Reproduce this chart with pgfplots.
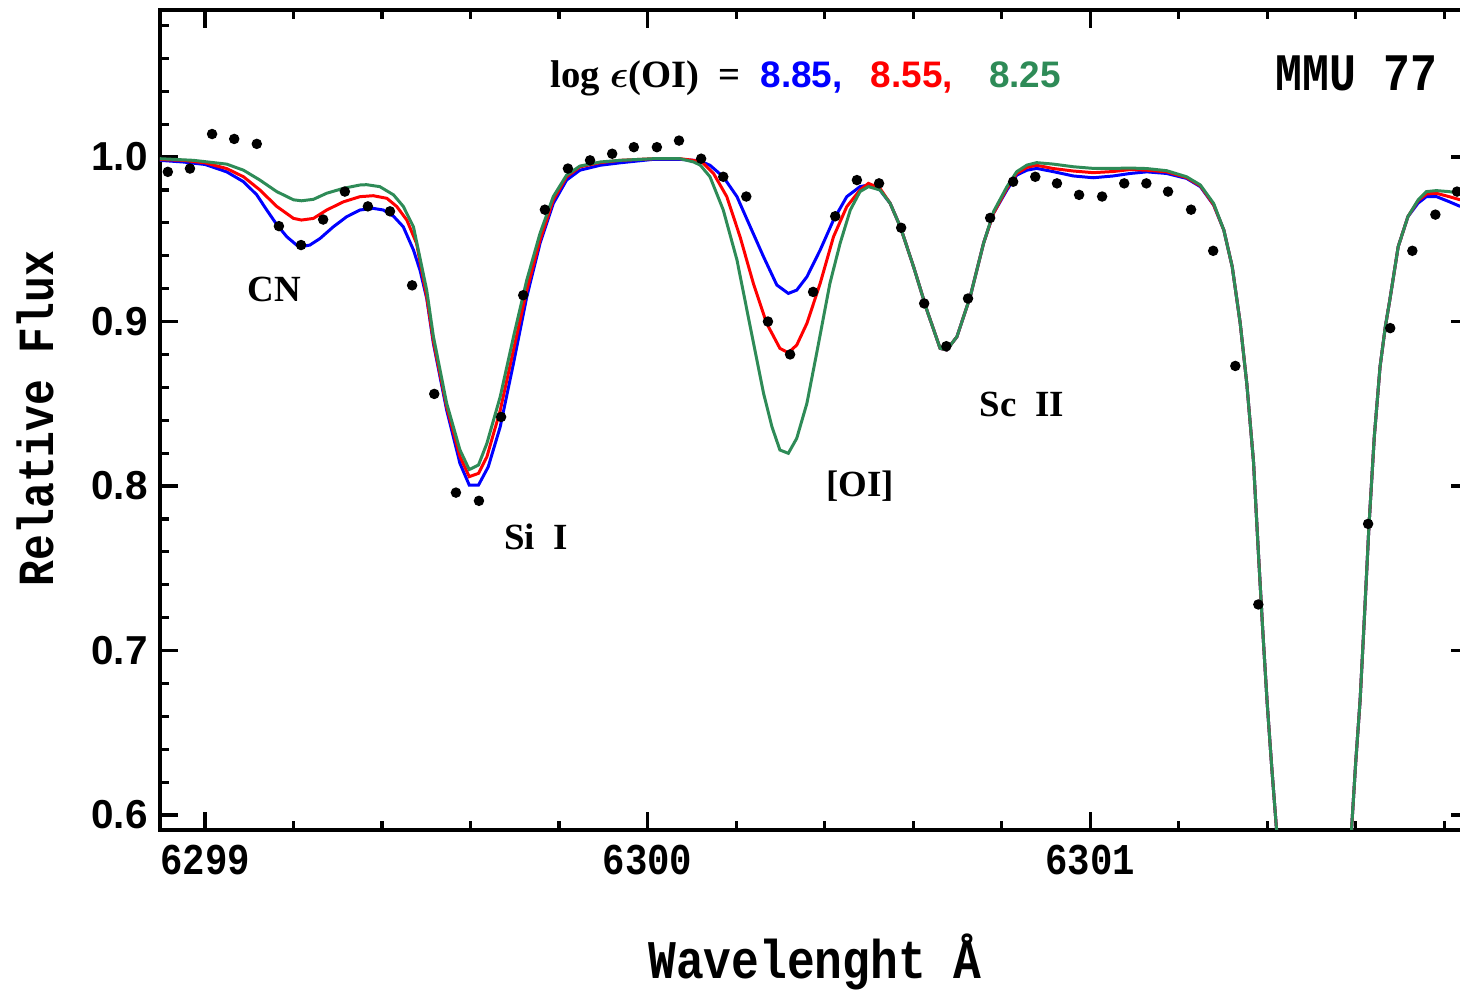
\documentclass[border=0pt]{standalone}
\usepackage{amsmath}
\usepackage{fontspec}
\setmainfont{Liberation Serif}
\newfontfamily\monoc[FakeStretch=0.85]{Liberation Mono}
\newfontfamily\sansb{Liberation Sans}
\usepackage{pgfplots}
\pgfplotsset{compat=1.18}
\definecolor{sgreen}{RGB}{46,139,87}

\begin{document}
\begin{tikzpicture}
\begin{axis}[
  scale only axis, width=130.9mm, height=82mm,
  xmin=6298.8983, xmax=6301.856, ymin=0.5909, ymax=1.0894,
  xtick={6299,6300,6301}, xticklabels={6299,6300,6301},
  minor xtick={6299.2,6299.4,6299.6,6299.8,6300.2,6300.4,6300.6,6300.8,6301.2,6301.4,6301.6,6301.8},
  ytick={0.6,0.7,0.8,0.9,1.0}, yticklabels={0.6,0.7,0.8,0.9,1.0},
  minor ytick={0.62,0.64,0.66,0.68,0.72,0.74,0.76,0.78,0.82,0.84,0.86,0.88,0.92,0.94,0.96,0.98,1.02,1.04,1.06,1.08},
  major tick length=1.8mm, minor tick length=0.9mm,
  every tick/.style={black, line width=0.9pt},
  axis line style={line width=1.1pt},
  xticklabel style={font=\monoc\bfseries\fontsize{12.5}{14}\selectfont, yshift=-0.3mm},
  yticklabel style={font=\sansb\bfseries\fontsize{11.5}{13}\selectfont},
  xlabel={Wavelenght Å}, ylabel={Relative Flux},
  xlabel style={at={(rel axis cs:0.5004,-0.161)}, anchor=center,
                font=\monoc\bfseries\fontsize{15.5}{17}\selectfont},
  ylabel style={at={(rel axis cs:-0.0955,0.502)}, anchor=center,
                font=\monoc\bfseries\fontsize{14.4}{16}\selectfont},
  unbounded coords=jump,
]
% model 8.85
\addplot[blue, line width=0.85pt] coordinates {
(6298.898,0.998)(6298.95,0.997)(6299.0,0.9955)(6299.049,0.991)(6299.087,0.985)
(6299.117,0.977)(6299.139,0.968)(6299.162,0.959)(6299.185,0.9515)(6299.207,0.9465)
(6299.218,0.9455)(6299.237,0.9465)(6299.260,0.9505)(6299.290,0.9576)(6299.320,0.9637)
(6299.350,0.9678)(6299.380,0.9688)(6299.403,0.9678)(6299.426,0.964)(6299.448,0.9576)
(6299.471,0.9435)(6299.486,0.931)(6299.501,0.914)(6299.516,0.8867)(6299.546,0.8462)
(6299.576,0.8138)(6299.597,0.8006)(6299.618,0.8006)(6299.640,0.8117)(6299.667,0.836)
(6299.697,0.8746)(6299.727,0.915)(6299.757,0.9475)(6299.787,0.9718)(6299.817,0.986)
(6299.847,0.992)(6299.893,0.995)(6299.938,0.9965)(6300.013,0.9986)(6300.073,0.9986)
(6300.104,0.998)(6300.119,0.9975)(6300.141,0.995)(6300.171,0.988)(6300.202,0.9759)
(6300.232,0.9576)(6300.262,0.9394)(6300.292,0.9222)(6300.318,0.9171)(6300.337,0.9191)
(6300.360,0.9272)(6300.390,0.9435)(6300.420,0.9617)(6300.450,0.9759)(6300.480,0.982)
(6300.499,0.983)(6300.525,0.980)
(6300.548,0.9719)(6300.571,0.9576)(6300.601,0.9333)(6300.631,0.907)(6300.661,0.8837)
(6300.676,0.8827)(6300.699,0.8908)(6300.729,0.9151)(6300.759,0.9475)(6300.782,0.966)
(6300.812,0.980)(6300.834,0.989)(6300.857,0.992)(6300.879,0.9931)(6300.917,0.9911)
(6300.962,0.9885)(6301.007,0.9874)(6301.052,0.9885)(6301.090,0.990)(6301.128,0.991)
(6301.173,0.990)(6301.218,0.987)(6301.249,0.982)(6301.279,0.9708)
(6301.302,0.9556)(6301.321,0.9333)(6301.339,0.899)(6301.354,0.862)(6301.369,0.815)
(6301.380,0.760)(6301.390,0.712)(6301.400,0.668)(6301.410,0.630)(6301.422,0.588)
(6301.426,0.575)(6301.5,nan)(6301.588,0.575)(6301.591,0.593)(6301.600,0.632)
(6301.610,0.670)(6301.620,0.722)(6301.630,0.776)(6301.642,0.830)(6301.655,0.8725)
(6301.667,0.897)(6301.677,0.913)(6301.696,0.9455)(6301.718,0.9638)
(6301.741,0.972)(6301.760,0.976)(6301.782,0.976)(6301.810,0.973)(6301.836,0.970)
};
% model 8.55
\addplot[red, line width=0.85pt] coordinates {
(6298.898,0.9985)(6298.95,0.998)(6299.0,0.9965)(6299.049,0.993)(6299.087,0.988)
(6299.124,0.980)(6299.162,0.970)(6299.200,0.9627)(6299.218,0.9617)(6299.245,0.9627)
(6299.275,0.9678)(6299.313,0.9728)(6299.350,0.9759)(6299.380,0.9765)(6299.411,0.9749)
(6299.433,0.970)(6299.456,0.9617)(6299.478,0.9475)(6299.501,0.915)(6299.516,0.888)
(6299.546,0.8482)(6299.576,0.818)(6299.597,0.8057)(6299.618,0.8077)(6299.637,0.8178)
(6299.667,0.846)(6299.697,0.8827)(6299.727,0.919)(6299.757,0.9495)(6299.787,0.9739)
(6299.817,0.988)(6299.847,0.994)(6299.893,0.9966)(6299.938,0.998)(6300.013,0.999)
(6300.073,0.999)(6300.104,0.998)(6300.125,0.9965)(6300.149,0.990)(6300.179,0.9759)
(6300.209,0.9515)(6300.239,0.9232)(6300.269,0.8989)(6300.299,0.8837)(6300.318,0.881)
(6300.337,0.8857)(6300.360,0.8989)(6300.390,0.9232)(6300.420,0.9515)(6300.450,0.9698)
(6300.480,0.980)(6300.499,0.984)(6300.525,0.981)
(6300.548,0.9719)(6300.571,0.9576)(6300.601,0.9333)(6300.631,0.907)(6300.661,0.8837)
(6300.676,0.8827)(6300.699,0.8908)(6300.729,0.9151)(6300.759,0.9475)(6300.782,0.966)
(6300.812,0.981)(6300.834,0.990)(6300.857,0.9937)(6300.879,0.995)(6300.917,0.993)
(6300.962,0.9915)(6301.007,0.9905)(6301.052,0.9912)(6301.090,0.9924)(6301.128,0.992)
(6301.173,0.991)(6301.218,0.9875)(6301.249,0.9825)(6301.279,0.971)
(6301.302,0.9556)(6301.321,0.9333)(6301.339,0.899)(6301.354,0.862)(6301.369,0.815)
(6301.380,0.760)(6301.390,0.712)(6301.400,0.668)(6301.410,0.630)(6301.422,0.588)
(6301.426,0.575)(6301.5,nan)(6301.588,0.575)(6301.591,0.593)(6301.600,0.632)
(6301.610,0.670)(6301.620,0.722)(6301.630,0.776)(6301.642,0.830)(6301.655,0.8725)
(6301.667,0.897)(6301.677,0.913)(6301.696,0.9455)(6301.718,0.9638)
(6301.741,0.9735)(6301.760,0.9775)(6301.782,0.978)(6301.810,0.976)(6301.836,0.974)
};
% model 8.25
\addplot[sgreen, line width=0.85pt] coordinates {
(6298.898,0.999)(6298.974,0.998)(6299.049,0.9957)(6299.087,0.992)(6299.124,0.986)
(6299.162,0.979)(6299.200,0.974)(6299.218,0.9734)(6299.245,0.9743)(6299.275,0.978)
(6299.313,0.981)(6299.350,0.983)(6299.365,0.9832)(6299.395,0.982)(6299.426,0.977)
(6299.448,0.970)(6299.471,0.9576)(6299.501,0.919)(6299.516,0.891)(6299.546,0.8503)
(6299.576,0.822)(6299.597,0.810)(6299.618,0.8128)(6299.637,0.826)(6299.667,0.8543)
(6299.697,0.8907)(6299.727,0.9252)(6299.757,0.9536)(6299.787,0.976)(6299.817,0.989)
(6299.847,0.9945)(6299.893,0.997)(6299.938,0.998)(6300.013,0.999)(6300.073,0.999)
(6300.104,0.997)(6300.119,0.9951)(6300.141,0.988)(6300.171,0.9678)(6300.202,0.9374)
(6300.232,0.8968)(6300.262,0.8564)(6300.281,0.836)(6300.299,0.8219)(6300.318,0.8199)
(6300.337,0.829)(6300.360,0.8503)(6300.382,0.8807)(6300.412,0.9232)(6300.435,0.9475)
(6300.458,0.9678)(6300.480,0.979)(6300.499,0.982)(6300.525,0.980)
(6300.548,0.9719)(6300.571,0.9576)(6300.601,0.9333)(6300.631,0.907)(6300.661,0.8837)
(6300.676,0.8827)(6300.699,0.8908)(6300.729,0.9151)(6300.759,0.9475)(6300.782,0.967)
(6300.812,0.982)(6300.834,0.9911)(6300.857,0.9951)(6300.879,0.9966)(6300.917,0.9957)
(6300.962,0.9941)(6301.007,0.9931)(6301.052,0.9931)(6301.090,0.9933)(6301.128,0.993)
(6301.173,0.9917)(6301.218,0.988)(6301.249,0.983)(6301.279,0.9718)
(6301.302,0.9556)(6301.321,0.9333)(6301.339,0.899)(6301.354,0.862)(6301.369,0.815)
(6301.380,0.760)(6301.390,0.712)(6301.400,0.668)(6301.410,0.630)(6301.422,0.588)
(6301.426,0.575)(6301.5,nan)(6301.588,0.575)(6301.591,0.593)(6301.600,0.632)
(6301.610,0.670)(6301.620,0.722)(6301.630,0.776)(6301.642,0.830)(6301.655,0.8725)
(6301.667,0.897)(6301.677,0.913)(6301.696,0.9455)(6301.718,0.9638)
(6301.741,0.9739)(6301.760,0.979)(6301.782,0.9796)(6301.810,0.979)(6301.836,0.978)
};
% observed spectrum
\addplot[only marks, mark=*, mark size=0.45mm, black] coordinates {
(6298.916,0.991)(6298.966,0.993)(6299.016,1.014)(6299.066,1.011)(6299.117,1.008)
(6299.167,0.958)(6299.217,0.9465)(6299.267,0.962)(6299.316,0.979)(6299.368,0.970)
(6299.418,0.967)(6299.468,0.922)(6299.518,0.856)(6299.567,0.796)(6299.619,0.791)
(6299.669,0.842)(6299.719,0.916)(6299.768,0.968)(6299.820,0.993)(6299.870,0.998)
(6299.920,1.002)(6299.969,1.006)(6300.021,1.006)(6300.071,1.010)(6300.121,0.999)
(6300.171,0.988)(6300.223,0.976)(6300.272,0.900)(6300.322,0.880)(6300.374,0.918)
(6300.424,0.964)(6300.473,0.986)(6300.523,0.984)(6300.573,0.957)(6300.625,0.911)
(6300.675,0.885)(6300.724,0.914)(6300.774,0.963)(6300.826,0.985)(6300.876,0.988)
(6300.925,0.984)(6300.975,0.977)(6301.027,0.976)(6301.077,0.984)(6301.127,0.984)
(6301.176,0.979)(6301.228,0.968)(6301.278,0.943)(6301.328,0.873)(6301.380,0.728)
(6301.628,0.777)(6301.678,0.896)(6301.728,0.943)(6301.780,0.965)(6301.829,0.979)
};
% line identifications
\node[font=\bfseries\fontsize{10.5}{12}\selectfont] at (axis cs:6299.156,0.9192) {CN};
\node[font=\bfseries\fontsize{10.5}{12}\selectfont] at (axis cs:6299.748,0.7690) {Si~~I};
\node[font=\bfseries\fontsize{10.5}{12}\selectfont] at (axis cs:6300.480,0.8000) {[OI]};
\node[font=\bfseries\fontsize{10.5}{12}\selectfont] at (axis cs:6300.846,0.8498) {Sc~~II};
% abundances
\node[anchor=base west, inner sep=0pt, font=\bfseries\fontsize{11}{13}\selectfont]
  at (axis cs:6299.780,1.042) {log~$\boldsymbol{\epsilon}$(OI)~~=};
\node[anchor=base west, inner sep=0pt, text=blue, font=\sansb\bfseries\fontsize{10.5}{12}\selectfont]
  at (axis cs:6300.254,1.042) {8.85,};
\node[anchor=base west, inner sep=0pt, text=red, font=\sansb\bfseries\fontsize{10.5}{12}\selectfont]
  at (axis cs:6300.503,1.042) {8.55,};
\node[anchor=base west, inner sep=0pt, text=sgreen, font=\sansb\bfseries\fontsize{10.5}{12}\selectfont]
  at (axis cs:6300.770,1.042) {8.25};
\node[anchor=base east, inner sep=0pt, font=\monoc\bfseries\fontsize{15}{17}\selectfont]
  at (axis cs:6301.786,1.0407) {MMU 77};
\end{axis}
\pgfresetboundingbox
\path[use as bounding box] ([xshift=-16mm,yshift=-16.3mm]current axis.south west)
  rectangle ([xshift=-0.9mm,yshift=1mm]current axis.north east);
\end{tikzpicture}
\end{document}
